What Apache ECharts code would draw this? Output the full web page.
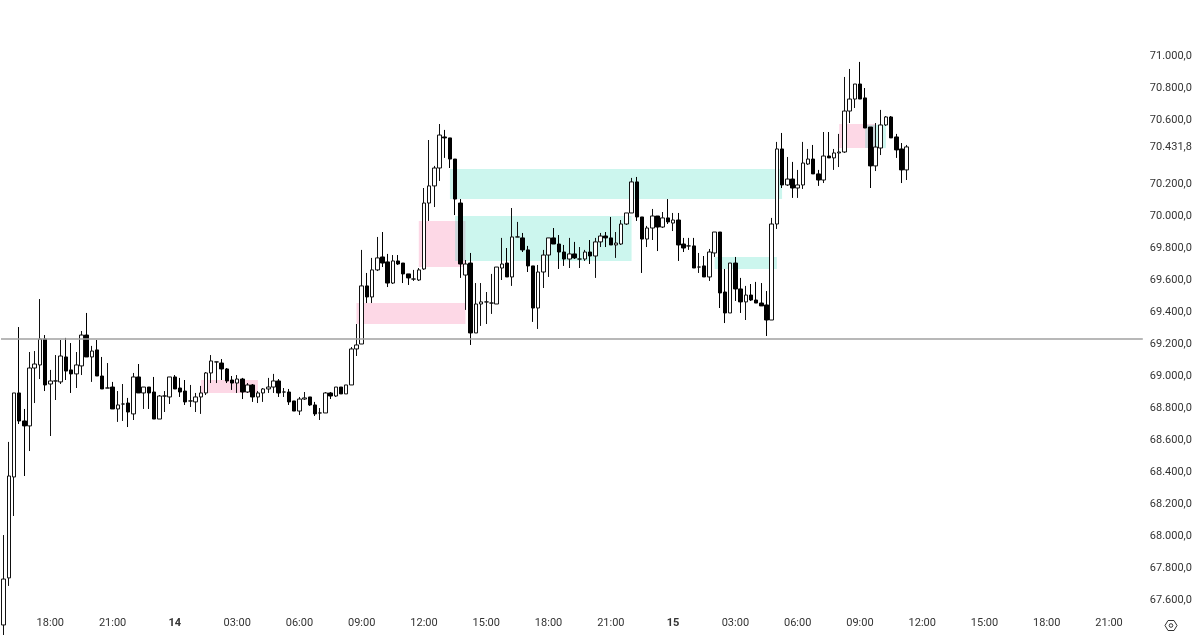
<!DOCTYPE html>
<html><head><meta charset="utf-8">
<style>html,body{margin:0;padding:0;background:#fff}#c{width:1200px;height:635px}</style>
<script src="https://cdn.jsdelivr.net/npm/echarts@6/dist/echarts.min.js"></script>
</head><body><div id="c"></div>
<script>
const opens=[67444,67738,68369,68894,68719,68688,69050,69069,69231,68950,68969,68963,69119,69038,69013,69063,69256,69119,69163,69000,68925,68931,68794,68825,68831,68763,68994,68894,68931,68900,68731,68875,68869,68994,68925,68906,68844,68838,68869,68894,69019,69088,69081,69044,68975,68956,68981,68900,68944,68869,68894,68919,68931,68969,68900,68900,68844,68781,68856,68869,68819,68769,68769,68894,68875,68931,68888,68944,69169,69200,69563,69494,69663,69744,69713,69581,69719,69706,69638,69606,69600,69669,70081,70188,70300,70494,70488,70356,70081,69631,69706,69269,69450,69463,69456,69450,69675,69706,69619,69869,69863,69788,69688,69425,69650,69756,69863,69825,69775,69731,69763,69731,69731,69775,69750,69838,69875,69863,69819,69825,69950,70019,70213,69994,69856,69925,70000,69931,69988,69956,69975,69825,69813,69813,69681,69688,69619,69769,69900,69525,69394,69706,69544,69463,69506,69475,69456,69444,69350,69950,70419,70194,70231,70175,70194,70325,70356,70263,70225,70375,70363,70394,70400,70656,70731,70825,70738,70556,70313,70425,70569,70619,70494,70419,70288];
const closes=[67731,68375,68894,68719,68688,69050,69075,69231,68944,68969,68969,69125,69031,69013,69069,69256,69119,69156,69000,68919,68925,68794,68819,68825,68775,68994,68894,68931,68894,68731,68875,68875,68994,68919,68900,68838,68844,68869,68894,69019,69094,69088,69044,68969,68956,68981,68900,68944,68869,68894,68919,68931,68969,68894,68900,68838,68781,68856,68863,68819,68763,68769,68894,68875,68931,68888,68944,69169,69194,69563,69494,69663,69738,69706,69581,69719,69700,69638,69613,69606,69663,70081,70188,70300,70506,70488,70356,70106,69700,69700,69269,69450,69463,69463,69456,69681,69700,69619,69869,69869,69788,69688,69425,69650,69756,69863,69825,69775,69731,69763,69738,69731,69775,69750,69838,69875,69863,69819,69831,69950,70019,70213,69994,69856,69925,70000,69931,69988,69963,69975,69819,69800,69813,69675,69681,69619,69775,69900,69519,69394,69706,69544,69463,69506,69475,69456,69438,69350,69950,70419,70194,70231,70175,70194,70331,70356,70263,70225,70375,70363,70394,70400,70656,70731,70825,70731,70550,70313,70431,70569,70619,70488,70413,70288,70431.8];
const lows=[67350,67688,68125,68700,68375,68531,68831,68981,68906,68625,68850,68950,68975,68894,68925,69006,69119,68963,69000,68919,68925,68794,68713,68719,68681,68725,68894,68794,68794,68731,68731,68775,68825,68919,68869,68819,68806,68775,68763,68881,68956,68956,68975,68956,68913,68894,68856,68894,68838,68831,68838,68894,68894,68869,68869,68819,68781,68756,68850,68813,68750,68725,68769,68856,68869,68888,68888,68944,69125,69200,69456,69456,69656,69681,69556,69575,69694,69581,69569,69594,69594,69663,69969,70056,70219,70363,70300,70006,69613,69413,69194,69269,69313,69325,69388,69450,69600,69619,69563,69869,69775,69650,69338,69294,69550,69619,69825,69669,69688,69675,69731,69675,69719,69700,69613,69806,69806,69819,69738,69819,69944,70019,69969,69644,69806,69850,69781,69925,69950,69906,69719,69775,69788,69675,69644,69619,69594,69744,69425,69331,69394,69469,69394,69350,69469,69456,69438,69250,69350,69919,70175,70188,70113,70113,70169,70319,70263,70188,70206,70363,70288,70306,70394,70581,70675,70731,70550,70175,70281,70381,70563,70488,70363,70206,70225];
const highs=[68006,68588,68894,69306,68794,69150,69156,69481,69256,69038,69131,69225,69238,69206,69150,69281,69394,69188,69225,69119,69081,68963,68906,68950,68863,69019,69075,68931,68931,68994,68881,68906,68994,69006,68988,68975,68944,68894,68938,69025,69131,69088,69106,69050,69000,69006,68988,68956,68950,68906,68925,68988,69013,68981,68925,68919,68844,68869,68900,68869,68838,68800,68900,68900,68931,68931,68944,69181,69325,69788,69644,69738,69869,69900,69763,69756,69756,69706,69638,69663,69675,70175,70475,70313,70575,70538,70488,70356,70106,69725,69769,69581,69581,69525,69638,69681,69863,69800,70050,69963,69894,69813,69688,69694,69788,69863,69925,69881,69819,69863,69838,69806,69788,69850,69863,69894,69900,69994,69900,69975,70019,70238,70244,69994,69938,70044,70000,70025,70106,70019,70019,69863,69863,69863,69769,69750,69794,69900,69900,69669,69706,69744,69613,69563,69575,69588,69581,69531,69988,70463,70519,70369,70338,70288,70463,70419,70444,70288,70525,70525,70419,70513,70869,70919,70825,70963,70800,70556,70581,70663,70625,70625,70513,70456,70444];
const tickLabels=['18:00','21:00','14','03:00','06:00','09:00','12:00','15:00','18:00','21:00','15','03:00','06:00','09:00','12:00','15:00','18:00','21:00'];
const priceTicks=[67600,67800,68000,68200,68400,68600,68800,69000,69200,69400,69600,69800,70000,70200,70431.8,70600,70800,71000];
const hLinePrice=69230;
const tealZones=[[86,150,70294,70106],[87,121,70000,69719],[137,149,69744,69669],[166,170,70569,70425]];
const pinkZones=[[80,89,69969,69681],[68,89,69456,69325],[38,49,68975,68894],[161,168,70575,70425]];

const BAR_SLOTS=220;
const categories=[];
for(let i=0;i<BAR_SLOTS;i++){categories.push((i-9)%12===0&&i>=9?tickLabels[(i-9)/12]:'b'+i);}
const candles=opens.map((o,i)=>[o,closes[i],lows[i],highs[i]]);
const zone=(z,color)=>[{xAxis:z[0],yAxis:z[2],itemStyle:{color}},{xAxis:z[1],yAxis:z[3]}];
const TEAL='rgba(0,210,170,0.2)',PINK='rgba(245,60,130,0.2)';
const fmtPrice=v=>{
  const s=Number(v).toFixed(1).split('.');
  return s[0].replace(/\B(?=(\d{3})+$)/g,'.')+','+s[1];
};
const chart=echarts.init(document.getElementById('c'),null,{renderer:'canvas'});
chart.setOption({
  animation:false,
  backgroundColor:'#fff',
  grid:{left:1,top:0,width:1141.8,height:612,containLabel:false},
  xAxis:{type:'category',data:categories,boundaryGap:true,
    axisLine:{show:false},axisTick:{show:false},splitLine:{show:false},
    axisLabel:{interval:i=>(i-9)%12===0&&i>=9,margin:6,color:'#333',fontFamily:'Roboto',fontSize:11,
      formatter:v=>v.indexOf(':')>=0?v:'{b|'+v+'}',rich:{b:{fontWeight:'bold',color:'#333',fontFamily:'Roboto',fontSize:11}}}},
  yAxis:{type:'value',position:'right',min:67525,max:71350,scale:true,
    axisLine:{show:false},axisTick:{show:false},splitLine:{show:false},
    axisLabel:{customValues:priceTicks,margin:7,color:'#333',fontFamily:'Roboto',fontSize:11,formatter:fmtPrice,showMinLabel:true,showMaxLabel:true,padding:[3,0,0,0]}},
  series:[{
    type:'candlestick',data:candles,barWidth:4,clip:true,
    itemStyle:{color:'#fff',color0:'#000',borderColor:'#111',borderColor0:'#000',borderColorDoji:'#111',borderWidth:1},
    markLine:{silent:true,symbol:'none',label:{show:false},
      lineStyle:{color:'#a0a0a0',width:1.5,type:'solid'},data:[{yAxis:hLinePrice}]},
    markArea:{silent:true,z:1,data:[...pinkZones.map(z=>zone(z,PINK)),...tealZones.map(z=>zone(z,TEAL))]}
  }],
  graphic:[
    {type:'polygon',shape:{points:[[1165,625.5],[1168,620.5],[1174,620.5],[1177,625.5],[1174,630.5],[1168,630.5]]},style:{fill:'#fff',stroke:'#333',lineWidth:1}},
    {type:'circle',shape:{cx:1171,cy:625.5,r:1.8},style:{fill:'#fff',stroke:'#333',lineWidth:1}}
  ]
});
</script></body></html>
